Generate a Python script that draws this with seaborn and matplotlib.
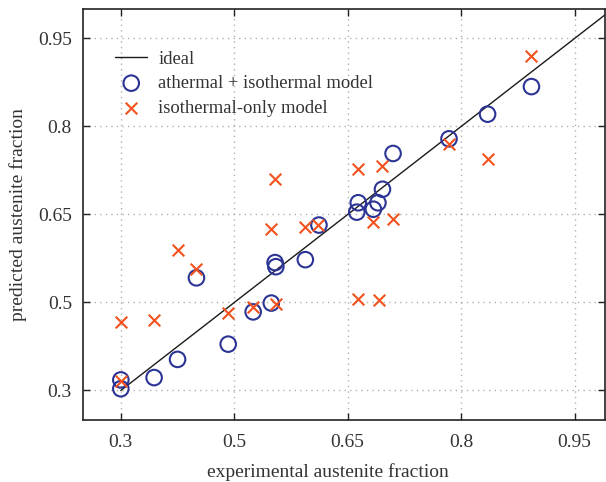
import matplotlib
matplotlib.use("Agg")
import matplotlib.pyplot as plt
import seaborn as sns

# experimental vs predicted austenite fractions
athermal_exp = [0.350, 0.350, 0.394, 0.425, 0.450, 0.492, 0.525, 0.549, 0.554, 0.555,
                0.594, 0.612, 0.662, 0.664, 0.684, 0.690, 0.696, 0.710, 0.784, 0.835, 0.893]
athermal_pred = [0.353, 0.368, 0.372, 0.403, 0.542, 0.429, 0.484, 0.499, 0.568, 0.561,
                 0.573, 0.632, 0.654, 0.670, 0.659, 0.670, 0.693, 0.754, 0.779, 0.821, 0.868]

isothermal_exp = [0.350, 0.350, 0.394, 0.425, 0.450, 0.492, 0.525, 0.549, 0.554, 0.555,
                  0.594, 0.611, 0.663, 0.664, 0.684, 0.691, 0.696, 0.710, 0.784, 0.835, 0.892]
isothermal_pred = [0.366, 0.466, 0.471, 0.590, 0.557, 0.482, 0.493, 0.626, 0.711, 0.498,
                   0.628, 0.632, 0.728, 0.506, 0.637, 0.505, 0.732, 0.642, 0.770, 0.745, 0.921]

ideal = [0.35, 1.0]

tick_pos = [0.35, 0.50, 0.65, 0.80, 0.95]
tick_labels = ["0.3", "0.5", "0.65", "0.8", "0.95"]

sns.set_style("ticks")
plt.rcParams["font.family"] = ["Liberation Serif", "DejaVu Serif"]

fig = plt.figure(figsize=(6.06, 4.82), dpi=100)
ax = fig.add_axes([0.137, 0.129, 0.861, 0.852])

blue = "#2b3494"
red = "#f4511e"
text_col = "#333333"

sns.lineplot(x=ideal, y=ideal, ax=ax, color="#1a1a1a", linewidth=1.0, label="ideal")
sns.scatterplot(x=athermal_exp, y=athermal_pred, ax=ax, marker="o", s=125,
                facecolors="none", edgecolor=blue, linewidth=1.5,
                label="athermal + isothermal model", zorder=3)
sns.scatterplot(x=isothermal_exp, y=isothermal_pred, ax=ax, marker="x", s=70,
                color=red, linewidth=1.5, label="isothermal-only model", zorder=3)

ax.set_xlim(0.30, 0.99)
ax.set_ylim(0.30, 1.00)
ax.set_xticks(tick_pos)
ax.set_xticklabels(tick_labels)
ax.set_yticks(tick_pos)
ax.set_yticklabels(tick_labels)
ax.tick_params(direction="in", top=True, right=True, length=5, width=1,
               labelsize=14, pad=8, color="#222222", labelcolor=text_col)
ax.tick_params(axis="x", pad=10)
for s in ax.spines.values():
    s.set_linewidth(1.2)
    s.set_color("#222222")
ax.grid(True, linestyle=(0, (1, 3)), color="#b0b0b0", linewidth=1.0)

ax.set_xlabel("experimental austenite fraction", fontsize=14, color=text_col)
ax.xaxis.set_label_coords(0.47, -0.105)
ax.set_ylabel("predicted austenite fraction", fontsize=14, color=text_col, labelpad=8)

leg = ax.legend(loc="upper left", bbox_to_anchor=(0.03, 0.94), frameon=False,
                fontsize=13.4, handlelength=1.7, labelspacing=0.4, handletextpad=0.6)
for t in leg.get_texts():
    t.set_color(text_col)

fig.savefig("out.png", dpi=100)
